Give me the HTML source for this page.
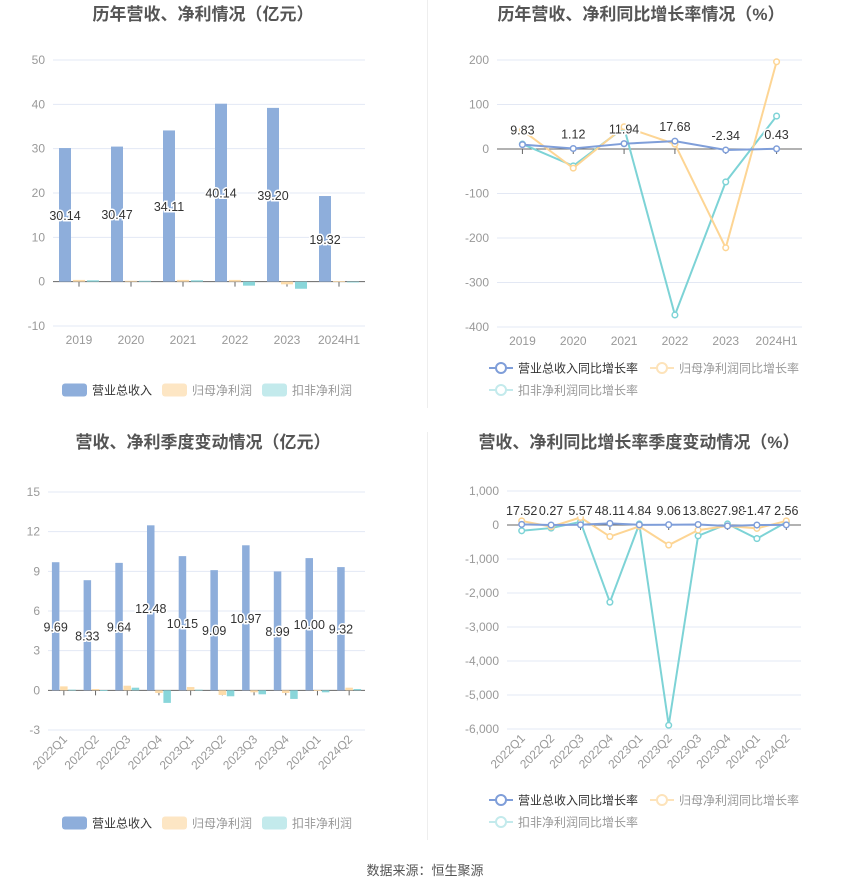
<!DOCTYPE html>
<html><head><meta charset="utf-8"><style>
body{margin:0;background:#fff;}
svg{display:block;font-family:"Liberation Sans","Noto Sans CJK SC",sans-serif;}
</style></head><body>
<svg id="s" width="850" height="891" viewBox="0 0 850 891" xmlns="http://www.w3.org/2000/svg">
<line x1="427.5" y1="0" x2="427.5" y2="408" stroke="#eee"/>
<line x1="427.5" y1="432" x2="427.5" y2="840" stroke="#eee"/>
<text x="203" y="20" text-anchor="middle" font-size="17" font-weight="bold" fill="#555">历年营收、净利情况（亿元）</text>
<text x="641" y="20" text-anchor="middle" font-size="17" font-weight="bold" fill="#555">历年营收、净利同比增长率情况（%）</text>
<text x="203" y="448" text-anchor="middle" font-size="17" font-weight="bold" fill="#555">营收、净利季度变动情况（亿元）</text>
<text x="639" y="448" text-anchor="middle" font-size="17" font-weight="bold" fill="#555">营收、净利同比增长率季度变动情况（%）</text>
<text x="425" y="875" text-anchor="middle" font-size="13" fill="#555">数据来源：恒生聚源</text>
</svg>
<script>
const yearCats=["2019","2020","2021","2022","2023","2024H1"];
const yearRev=[30.14,30.47,34.11,40.14,39.20,19.32];
const yearNet=[0.4,0.2,0.4,0.4,-0.6,0.1];
const yearDed=[0.3,0.2,0.3,-0.9,-1.6,-0.1];
const yearTicks1=[50,40,30,20,10,0,-10];
const yearRevG=[9.83,1.12,11.94,17.68,-2.34,0.43];
const yearNetG=[42,-43,50,11,-222,196];
const yearDedG=[11,-38,48,-373,-74,74];
const yearTicks2=[200,100,0,-100,-200,-300,-400];
const qCats=["2022Q1","2022Q2","2022Q3","2022Q4","2023Q1","2023Q2","2023Q3","2023Q4","2024Q1","2024Q2"];
const qRev=[9.69,8.33,9.64,12.48,10.15,9.09,10.97,8.99,10.00,9.32];
const qNet=[0.3,0.1,0.35,-0.2,0.25,-0.35,-0.15,-0.2,0.02,0.2];
const qDed=[0.05,0.02,0.2,-0.95,0.05,-0.45,-0.3,-0.65,-0.15,0.1];
const qTicks1=[15,12,9,6,3,0,-3];
const qRevG=[17.52,0.27,5.57,48.11,4.84,9.06,13.80,-27.98,-1.47,2.56];
const qNetG=[120,-50,220,-340,-40,-590,-150,-30,-100,120];
const qDedG=[-170,-90,90,-2270,30,-5890,-320,30,-400,80];
const qTicks2=[1000,0,-1000,-2000,-3000,-4000,-5000,-6000];

const NS="http://www.w3.org/2000/svg";
const svg=document.getElementById('s');
function mk(tag,attrs,parent,txt){const e=document.createElementNS(NS,tag);for(const k in attrs)e.setAttribute(k,attrs[k]);if(txt!==undefined)e.textContent=txt;(parent||svg).appendChild(e);return e;}
const C={blue:"#8eaedb",yel:"#fddcaa",teal:"#89d6da",lblue:"#7f9ed9",lyel:"#fdd594",lteal:"#7dd3d6"};

function axes(g,x0,x1,yTop,yBot,ticks,fmt,cats,rot,name){
  const max=ticks[0],min=ticks[ticks.length-1];
  const ys=v=>yTop+(max-v)/(max-min)*(yBot-yTop);
  const bw=(x1-x0)/cats.length;
  const xc=i=>x0+bw*(i+0.5);
  ticks.forEach(t=>{
    const gl=mk('line',{x1:x0,x2:x1,y1:ys(t),y2:ys(t),stroke:t===0?"#666":"#e3e8f4"},g);
    
    
    const tl=mk('text',{x:x0-8,y:ys(t)+4,'text-anchor':'end','font-size':12,fill:'#999'},g,fmt(t));
    
    
  });
  cats.forEach((c,i)=>{
    const tk=mk('line',{x1:xc(i),x2:xc(i),y1:ys(0),y2:ys(0)+5,stroke:'#666'},g);
    
    
    let t;
    if(rot){t=mk('text',{x:xc(i)+4,y:yBot+10,'text-anchor':'end','font-size':12,fill:'#999',transform:`rotate(-45 ${xc(i)+4} ${yBot+10})`},g,c);}
    else{t=mk('text',{x:xc(i),y:yBot+18,'text-anchor':'middle','font-size':12,fill:'#999'},g,c);}
    
    
  });
  return {ys,xc,bw};
}
function label(g,x,y,txt,name){
  const t=mk('text',{x:x,y:y,'text-anchor':'middle','font-size':12.5,fill:'#333',stroke:'#fff','stroke-width':3,'paint-order':'stroke'},g,txt);
  
  
}
function barChart(name,x0,x1,yTop,yBot,ticks,cats,s1,s2,s3,bwid,gap,rot){
  const g=mk('g',{});
  
  
  const A=axes(g,x0,x1,yTop,yBot,ticks,v=>String(v),cats,rot,name);
  const ser=[[s1,C.blue,'revenue'],[s2,C.yel,'net-profit'],[s3,C.teal,'deducted-profit']];
  cats.forEach((c,i)=>{
    ser.forEach((s,j)=>{
      const v=s[0][i];const cx=A.xc(i)+(j-1)*(bwid+gap);
      const ya=A.ys(Math.max(v,0)),yb=A.ys(Math.min(v,0));
      const r=mk('rect',{x:cx-bwid/2,y:ya,width:bwid,height:Math.max(yb-ya,0.8),fill:s[1]},g);
      
      
    });
  });
  cats.forEach((c,i)=>{
    const cx=A.xc(i)-(bwid+gap);
    label(g,cx,(A.ys(s1[i])+A.ys(0))/2+5,s1[i].toFixed(2),name+'-value-label');
  });
}
function lineChart(name,x0,x1,yTop,yBot,ticks,fmt,cats,s1,s2,s3,rot,lblDy,fixedY){
  const g=mk('g',{});
  
  
  const A=axes(g,x0,x1,yTop,yBot,ticks,fmt,cats,rot,name);
  const ser=[[s3,C.lteal,'deducted-growth'],[s2,C.lyel,'net-growth'],[s1,C.lblue,'revenue-growth']];
  ser.forEach(s=>{
    const pts=s[0].map((v,i)=>A.xc(i)+','+A.ys(v)).join(' ');
    const pl=mk('polyline',{points:pts,fill:'none',stroke:s[1],'stroke-width':2},g);
    
    
    s[0].forEach((v,i)=>{
      const c=mk('circle',{cx:A.xc(i),cy:A.ys(v),r:2.8,fill:'#fff',stroke:s[1],'stroke-width':1.5},g);
      
      
    });
  });
  s1.forEach((v,i)=>{
    const y=fixedY!==undefined?fixedY:A.ys(v)-lblDy;
    label(g,A.xc(i),y,v.toFixed(2),name+'-value-label');
  });
}
function legendBars(y,items){
  items.forEach(it=>{
    const r=mk('rect',{x:it[0],y:y-6.5,width:25,height:13,rx:3,fill:it[1]});
    
    
    const t=mk('text',{x:it[0]+30,y:y+4.5,'font-size':12,fill:it[3]},svg,it[2]);
    
    
  });
}
function legendLines(items){
  items.forEach(it=>{
    const [x,y,col,txt,tc]=it;
    const l=mk('line',{x1:x,x2:x+24,y1:y,y2:y,stroke:col,'stroke-width':2});
    
    
    const c=mk('circle',{cx:x+12,cy:y,r:5,fill:'#fff',stroke:col,'stroke-width':2});
    
    
    const t=mk('text',{x:x+29,y:y+4.5,'font-size':12,fill:tc},svg,txt);
    
    
  });
}
const comma=v=>v.toLocaleString('en-US');
barChart('annual-bar-chart',53,365,60,326,yearTicks1,yearCats,yearRev,yearNet,yearDed,12,2,false);
lineChart('annual-growth-chart',497,802,60,327,yearTicks2,v=>String(v),yearCats,yearRevG,yearNetG,yearDedG,false,10);
barChart('quarter-bar-chart',48,365,492,730,qTicks1,qCats,qRev,qNet,qDed,7.5,0.7,true);
lineChart('quarter-growth-chart',507,801,491,729,qTicks2,comma,qCats,qRevG,qNetG,qDedG,true,0,515);
legendBars(390,[[62,C.blue,'营业总收入','#333'],[162,'#fde6c4','归母净利润','#999'],[262,'#c3eaec','扣非净利润','#999']]);
legendBars(823,[[62,C.blue,'营业总收入','#333'],[162,'#fde6c4','归母净利润','#999'],[262,'#c3eaec','扣非净利润','#999']]);
legendLines([[489,368,C.lblue,'营业总收入同比增长率','#333'],[650,368,'#fde3ba','归母净利润同比增长率','#999'],[489,390,'#c3eaec','扣非净利润同比增长率','#999']]);
legendLines([[489,800,C.lblue,'营业总收入同比增长率','#333'],[650,800,'#fde3ba','归母净利润同比增长率','#999'],[489,822,'#c3eaec','扣非净利润同比增长率','#999']]);
</script>
</body></html>
